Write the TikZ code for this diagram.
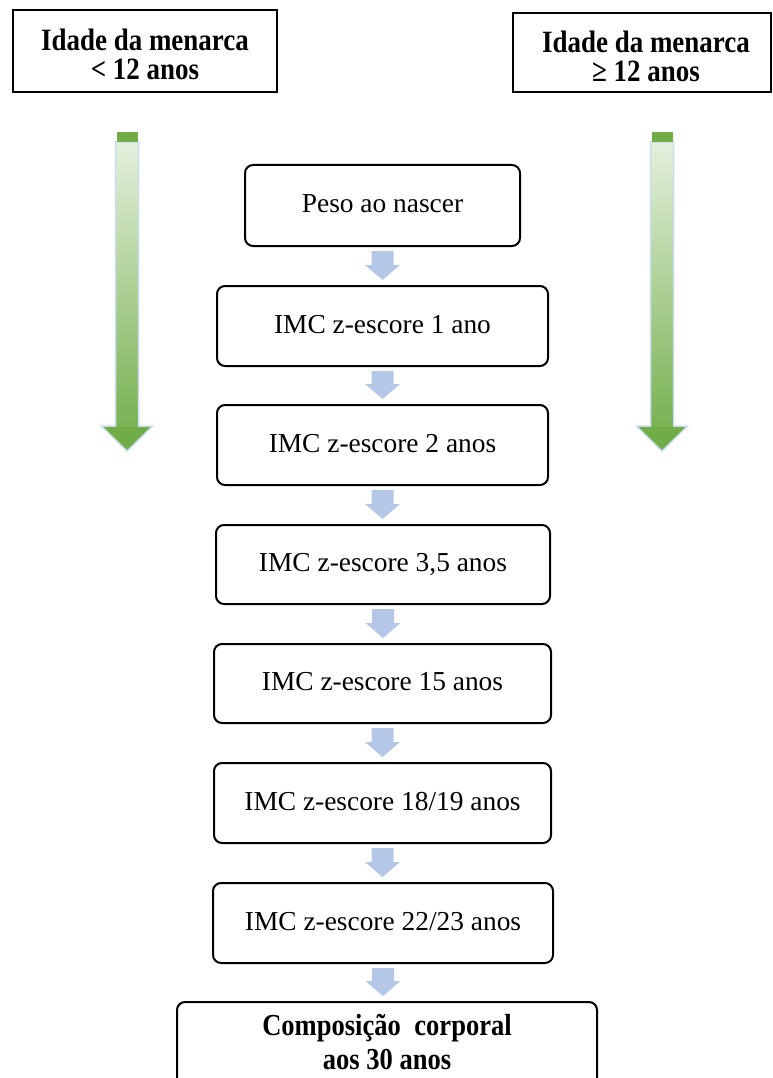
\documentclass[tikz,border=0pt]{standalone}
\usepackage{fontspec}
\setmainfont{Liberation Serif}
\newfontfamily\headfont{Liberation Serif}[FakeStretch=0.87]
\usetikzlibrary{calc}

\definecolor{flowblue}{HTML}{B4C7E7}
\definecolor{greendark}{HTML}{70AD47}
\definecolor{greenlight}{HTML}{E4F0DC}
\definecolor{rimblue}{HTML}{C9DCF2}

% light-blue block arrow from the bottom of one stage to the top of the next
\newcommand\flowarrow[2]{%
  \fill[flowblue] let \p1=(#1.south), \p2=(#2.north) in
    (\x1-11pt,\y1-4pt) -- (\x1+11pt,\y1-4pt) -- (\x1+11pt,\y2+20pt)
    -- (\x1+17.5pt,\y2+20pt) -- (\x1,\y2+5pt) -- (\x1-17.5pt,\y2+20pt)
    -- (\x1-11pt,\y2+20pt) -- cycle;}

% tall green gradient arrow with a dark cap and a solid head, centred on x = #1
\newcommand\trendarrow[1]{%
  \shadedraw[top color=greenlight, bottom color=greendark, draw=rimblue, line width=1.5pt]
    (#1-11.5,142) -- (#1+11.5,142) -- (#1+11.5,426) -- (#1+25.5,426)
    -- (#1,451) -- (#1-25.5,426) -- (#1-11.5,426) -- cycle;
  \fill[greendark] (#1-23,427) -- (#1+23,427) -- (#1,449.5) -- cycle;
  \fill[greendark] (#1-10.5,132) rectangle (#1+10.5,142.5);}

\begin{document}
\begin{tikzpicture}[x=1pt,y=-1pt,
  stage/.style={draw=black, line width=2pt, rounded corners=8pt, inner sep=0pt,
    font=\fontsize{27.4}{30}\selectfont, text height=19pt, text depth=5pt},
  header/.style={draw=black, line width=2.5pt, inner sep=0pt},
  headtext/.style={font=\headfont\bfseries\fontsize{31}{31}\selectfont,
    anchor=base, inner sep=0pt},
  resulttext/.style={font=\headfont\bfseries\fontsize{30.5}{30}\selectfont,
    anchor=base, inner sep=0pt}]
\useasboundingbox (0,0) rectangle (773,1078);
\clip (0,0) rectangle (773,1078);

% menarche groups
\node[header, minimum width=264pt, minimum height=82pt] (early) at (145,51) {};
\node[headtext] (early-a) at (145,51) {Idade da menarca};
\node[headtext] (early-b) at (145,80) {< 12 anos};

\node[header, minimum width=258pt, minimum height=79pt] (late) at (642,52.5) {};
\node[headtext] (late-a) at (646,53) {Idade da menarca};
\node[headtext] (late-b) at (646,82) {≥ 12 anos};

\trendarrow{127}
\trendarrow{662}

% measurement sequence
\node[stage, minimum width=275pt, minimum height=81pt] (birth) at (382.5,205.5) {Peso ao nascer};
\node[stage, minimum width=331pt, minimum height=80pt] (y1)  at (382.5,326) {IMC z-escore 1 ano};
\node[stage, minimum width=331pt, minimum height=80pt] (y2)  at (382.5,445) {IMC z-escore 2 anos};
\node[stage, minimum width=334pt, minimum height=79pt] (y35) at (383,564.5) {IMC z-escore 3,5 anos};
\node[stage, minimum width=337pt, minimum height=79pt] (y15) at (382.5,683.5) {IMC z-escore 15 anos};
\node[stage, minimum width=337pt, minimum height=80pt] (y18) at (382.5,803) {IMC z-escore 18/19 anos};
\node[stage, minimum width=340pt, minimum height=80pt] (y22) at (383,923) {IMC z-escore 22/23 anos};
\node[stage, minimum width=420pt, minimum height=118pt] (body) at (387,1061) {};
\node[resulttext] (body-a) at (387,1035) {Composição\hspace{7pt} corporal};
\node[resulttext] (body-b) at (387,1069) {aos 30 anos};

\flowarrow{birth}{y1}
\flowarrow{y1}{y2}
\flowarrow{y2}{y35}
\flowarrow{y35}{y15}
\flowarrow{y15}{y18}
\flowarrow{y18}{y22}
\flowarrow{y22}{body}
\end{tikzpicture}
\end{document}
